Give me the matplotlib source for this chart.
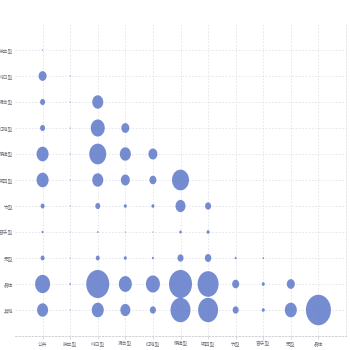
import numpy as np
import matplotlib
matplotlib.use("Agg")
import matplotlib.pyplot as plt
from matplotlib.path import Path

plt.rcParams['font.family'] = ['Noto Sans CJK SC', 'DejaVu Sans']

x_labels = ['公共', '独立型', '纯日型', '混合型', '红地型', '便捷型', '钢四型', '竹型', '音乐型', '无型', '晶体']
y_labels = ['独立型', '纯日型', '混合型', '红地型', '便捷型', '钢四型', '竹型', '音乐型', '无型', '晶体', '其他']

# values per row (y label order, top to bottom), per column (x label order)
row_values = [
    [1],
    [8, 1],
    [5, 1, 11],
    [5, 1, 14, 8],
    [12, 1, 17, 11, 9],
    [12, 1, 11, 9, 7, 17],
    [4, 1, 5, 3, 3, 10, 6],
    [2, 0.8, 1.5, 1, 1, 2.5, 3],
    [4, 1, 4, 3, 2, 6, 6.5, 2, 1.5],
    [15, 1.5, 23, 13, 14, 23, 21, 7, 3, 8],
    [11, 1, 12, 10, 6, 20, 20, 6, 3, 12, 25],
]

DPI = 100
fig = plt.figure(figsize=(3.5, 3.5), dpi=DPI)
ax = fig.add_axes([15/350, 14/350, 331/350, 312/350])

xs, ys, vs = [], [], []
for r, row in enumerate(row_values):
    for c, v in enumerate(row):
        xs.append(c)
        ys.append(r)
        vs.append(v)
vs = np.array(vs, dtype=float)

# elliptical marker (slightly taller than wide)
aspect = 1.22
t = np.linspace(0, 2*np.pi, 64)
verts = np.column_stack([np.cos(t), aspect*np.sin(t)])
ell = Path(verts, closed=True)

# value = marker width in px -> marker height in points
h_pt = vs * aspect * 72 / DPI
ax.scatter(xs, ys, s=h_pt**2, marker=ell, color='#5470c6', alpha=0.8,
           linewidths=0, zorder=3)

ax.set_xlim(-1, 11)
ax.set_ylim(11, -1)
ax.set_xticks(range(len(x_labels)))
ax.set_xticklabels(x_labels, fontsize=3.4, color='#6e7079')
ax.set_yticks(range(len(y_labels)))
ax.set_yticklabels(y_labels, fontsize=3.4, color='#6e7079')
ax.tick_params(axis='x', length=2, width=0.5, color='#c8c8c8', pad=2)
ax.tick_params(axis='y', length=0, pad=1.5)

ax.grid(True, linestyle=(0, (2, 2)), color='#e0e3ea', linewidth=0.6, zorder=0)
for s in ['top', 'left']:
    ax.spines[s].set_visible(False)
ax.spines['right'].set_linestyle((0, (2, 2)))
ax.spines['right'].set_color('#e0e3ea')
ax.spines['right'].set_linewidth(0.6)
ax.spines['bottom'].set_linestyle((0, (2, 2)))
ax.spines['bottom'].set_color('#c8ccd4')
ax.spines['bottom'].set_linewidth(0.6)

fig.savefig('out.png', dpi=DPI)
